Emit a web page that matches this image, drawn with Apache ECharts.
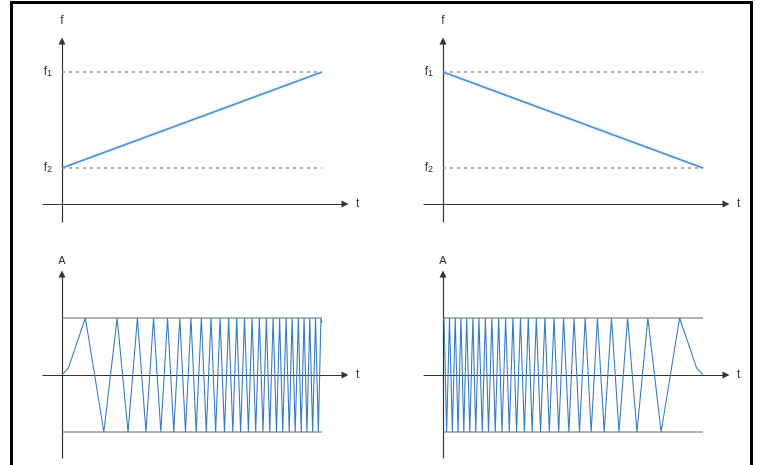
<!DOCTYPE html>
<html>
<head>
<meta charset="utf-8">
<title>Linear chirp: up-sweep and down-sweep</title>
<script src="https://cdn.jsdelivr.net/npm/echarts@6/dist/echarts.min.js"></script>
<style>
  html, body { margin: 0; padding: 0; background: #ffffff; }
  #chart { width: 761px; height: 465px; }
</style>
</head>
<body>
<div id="chart"></div>
<script>
// ---- Frequency sweep levels (arbitrary units) ----
const F_LOW = 3;    // f2
const F_HIGH = 11;  // f1
const freqTickValues = [F_LOW, F_HIGH];
const freqTickSubs = ['2', '1'];

// Frequency against time for the two sweeps
const upSweepT = [0, 10];
const upSweepF = [3, 11];
const downSweepT = [0, 10];
const downSweepF = [11, 3];

// ---- Up-chirp waveform: times of crests (+A) and troughs (−A) ----
const upCrestT = [0.90, 2.12, 2.90, 3.52, 4.06, 4.53, 4.96, 5.36, 5.73, 6.08, 6.41, 6.72,
  7.02, 7.31, 7.59, 7.86, 8.12, 8.37, 8.62, 8.85, 9.09, 9.31, 9.53, 9.75, 9.96];
const upTroughT = [1.61, 2.54, 3.23, 3.80, 4.30, 4.75, 5.16, 5.55, 5.91, 6.25, 6.57, 6.87,
  7.17, 7.45, 7.73, 7.99, 8.25, 8.49, 8.74, 8.97, 9.20, 9.42, 9.64, 9.86];
// start / end samples of the up-chirp trace
const upEdgeT = [0, 0.25, 10];
const upEdgeA = [0, 0.13, 0.92];

// ---- Down-chirp waveform ----
const downCrestT = [0.04, 0.25, 0.47, 0.69, 0.91, 1.15, 1.38, 1.63, 1.88, 2.14, 2.41, 2.69,
  2.98, 3.28, 3.59, 3.92, 4.27, 4.64, 5.04, 5.47, 5.94, 6.48, 7.10, 7.88, 9.10];
const downTroughT = [0.14, 0.36, 0.58, 0.80, 1.03, 1.26, 1.51, 1.75, 2.01, 2.27, 2.55, 2.83,
  3.13, 3.43, 3.75, 4.09, 4.45, 4.84, 5.25, 5.70, 6.20, 6.77, 7.46, 8.39];
const downEdgeT = [0, 9.75, 10];
const downEdgeA = [0.92, 0.13, 0];

// Amplitude envelope
const AMP = 1;
const envelopeT = [0, 10];

// ---- helpers ----
function zipPairs(xs, ys) { return xs.map((x, i) => [x, ys[i]]); }
function waveform(crests, troughs, edgeT, edgeA) {
  const pts = []
    .concat(crests.map(t => [t, AMP]))
    .concat(troughs.map(t => [t, -AMP]))
    .concat(zipPairs(edgeT, edgeA));
  return pts.sort((a, b) => a[0] - b[0]);
}

const AXIS_COLOR = '#333333';
const TEXT_COLOR = '#333333';
const FONT = 'Liberation Sans, Arial, sans-serif';

// Panel layout
const panels = [
  { left: 43,  top: 41,  width: 302, height: 181, kind: 'f' },
  { left: 424, top: 41,  width: 302, height: 181, kind: 'f' },
  { left: 43,  top: 274, width: 302, height: 184, kind: 'A' },
  { left: 424, top: 274, width: 302, height: 184, kind: 'A' }
];

const arrowLine = {
  onZero: true,
  symbol: ['none', 'triangle'],
  symbolSize: [7, 7],
  lineStyle: { color: AXIS_COLOR, width: 1.2 }
};

const grid = panels.map(p => ({ left: p.left, top: p.top, width: p.width, height: p.height }));

const xAxis = panels.map((p, i) => ({
  type: 'value', gridIndex: i,
  min: -19 / 26, max: 283 / 26,
  axisLine: arrowLine,
  axisTick: { show: false }, axisLabel: { show: false }, splitLine: { show: false },
  name: 't', nameLocation: 'end', nameGap: 11,
  nameTextStyle: { color: TEXT_COLOR, fontSize: 12, fontFamily: FONT, verticalAlign: 'middle' }
}));

const yAxis = panels.map((p, i) => {
  if (p.kind === 'f') {
    return {
      type: 'value', gridIndex: i,
      min: -1.5, max: 163 / 12,
      axisLine: arrowLine,
      axisTick: { show: false },
      axisLabel: {
        show: true, customValues: freqTickValues, margin: -9,
        color: TEXT_COLOR, fontSize: 12, fontFamily: FONT,
        formatter: v => '{f|f}{s|' + (freqTickSubs[freqTickValues.indexOf(v)] || '') + '}',
        rich: {
          f: { fontSize: 12, color: TEXT_COLOR, fontFamily: FONT },
          s: { fontSize: 9, color: TEXT_COLOR, fontFamily: FONT, padding: [4, 0, 0, 0] }
        }
      },
      splitLine: { show: false },
      name: 'f', nameLocation: 'end', nameGap: 14,
      nameTextStyle: { color: TEXT_COLOR, fontSize: 12, fontFamily: FONT, align: 'center' }
    };
  }
  return {
    type: 'value', gridIndex: i,
    min: -83 / 57, max: 101 / 57,
    axisLine: arrowLine,
    axisTick: { show: false }, axisLabel: { show: false }, splitLine: { show: false },
    name: 'A', nameLocation: 'end', nameGap: 8,
    nameTextStyle: { color: TEXT_COLOR, fontSize: 11, fontFamily: FONT, align: 'center' }
  };
});

const SWEEP_BLUE = '#4a8fcf';
const WAVE_BLUE = '#3a7cc0';
const DASH_GREY = '#9a9a9a';
const ENV_GREY = '#666666';

function refLine(idx, y, dashed) {
  return {
    type: 'line', xAxisIndex: idx, yAxisIndex: idx, symbol: 'none', silent: true, z: 1,
    data: envelopeT.map(t => [t, y]),
    lineStyle: dashed
      ? { color: DASH_GREY, width: 1.4, type: [3, 4] }
      : { color: ENV_GREY, width: 1 }
  };
}

const series = [
  // top-left: rising frequency
  refLine(0, F_HIGH, true), refLine(0, F_LOW, true),
  { type: 'line', xAxisIndex: 0, yAxisIndex: 0, symbol: 'none', z: 3,
    data: zipPairs(upSweepT, upSweepF),
    lineStyle: { color: SWEEP_BLUE, width: 1.6, shadowColor: 'rgba(120,180,240,0.5)', shadowBlur: 3 } },
  // top-right: falling frequency
  refLine(1, F_HIGH, true), refLine(1, F_LOW, true),
  { type: 'line', xAxisIndex: 1, yAxisIndex: 1, symbol: 'none', z: 3,
    data: zipPairs(downSweepT, downSweepF),
    lineStyle: { color: SWEEP_BLUE, width: 1.6, shadowColor: 'rgba(120,180,240,0.5)', shadowBlur: 3 } },
  // bottom-left: up-chirp waveform
  refLine(2, AMP, false), refLine(2, -AMP, false),
  { type: 'line', xAxisIndex: 2, yAxisIndex: 2, symbol: 'none', z: 3,
    data: waveform(upCrestT, upTroughT, upEdgeT, upEdgeA),
    lineStyle: { color: WAVE_BLUE, width: 1.1 } },
  // bottom-right: down-chirp waveform
  refLine(3, AMP, false), refLine(3, -AMP, false),
  { type: 'line', xAxisIndex: 3, yAxisIndex: 3, symbol: 'none', z: 3,
    data: waveform(downCrestT, downTroughT, downEdgeT, downEdgeA),
    lineStyle: { color: WAVE_BLUE, width: 1.1 } }
];

const chart = echarts.init(document.getElementById('chart'), null, { renderer: 'canvas' });
chart.setOption({
  animation: false,
  backgroundColor: '#ffffff',
  grid, xAxis, yAxis, series,
  graphic: [{
    type: 'rect', silent: true, z: 100,
    shape: { x: 11.5, y: 2.5, width: 740, height: 480 },
    style: { fill: 'none', stroke: '#000000', lineWidth: 3 }
  }]
});
</script>
</body>
</html>
